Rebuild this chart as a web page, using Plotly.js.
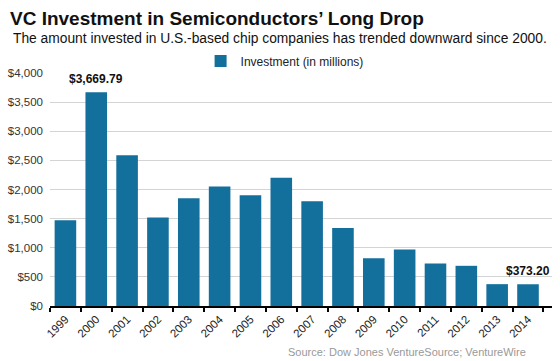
<!DOCTYPE html>
<html><head><meta charset="utf-8">
<script src="https://cdn.plot.ly/plotly-3.0.1.min.js"></script>
<style>html,body{margin:0;padding:0;background:#fff}#c{width:560px;height:361px}</style>
</head><body><div id="c"></div>
<script>
const years = ['1999','2000','2001','2002','2003','2004','2005','2006','2007','2008','2009','2010','2011','2012','2013','2014'];
const investment = [1470, 3669.79, 2590, 1520, 1850, 2050, 1900, 2200, 1800, 1340, 820, 970, 730, 690, 375, 373.20];
const yTickVals = [0,500,1000,1500,2000,2500,3000,3500,4000];
const yTickText = ['$0','$500','$1,000','$1,500','$2,000','$2,500','$3,000','$3,500','$4,000'];
const seriesName = 'Investment (in millions)';
const labelled = [{i:1, text:'$3,669.79'}, {i:15, text:'$373.20'}];

const F = 'Liberation Sans, Arial, sans-serif';
const anns = labelled.map(l => ({
  x: l.i, y: investment[l.i], xref:'x', yref:'y', text:l.text, showarrow:false,
  yanchor:'bottom', yshift:4, font:{family:F, size:12, color:'#111', weight:'bold'}
}));
anns.push({xref:'paper', yref:'paper', x:-0.084, y:1.236, xanchor:'left', yanchor:'middle', showarrow:false,
  text:'<b>VC Investment in Semiconductors’ Long Drop</b>', font:{family:F, size:19, color:'#111'}});
anns.push({xref:'paper', yref:'paper', x:-0.078, y:1.150, xanchor:'left', yanchor:'middle', showarrow:false,
  text:'The amount invested in U.S.-based chip companies has trended downward since 2000.', font:{family:F, size:13.8, color:'#111'}});
anns.push({xref:'paper', yref:'paper', x:0.952, y:-0.197, xanchor:'right', yanchor:'middle', showarrow:false,
  text:'Source: Dow Jones VentureSource; VentureWire', font:{family:F, size:11, color:'#999'}});

Plotly.newPlot('c', [{
  type:'bar', x:years, y:investment, name:seriesName, showlegend:true,
  marker:{color:'#136f9c'}, hoverinfo:'none'
}], {
  width:560, height:361,
  margin:{l:50, r:8, t:73, b:55},
  paper_bgcolor:'#fff', plot_bgcolor:'#fff',
  bargap:0.3,
  font:{family:F, size:11, color:'#333'},
  showlegend:true,
  legend:{orientation:'h', x:0.30, xanchor:'left', y:1.052, yanchor:'middle', itemwidth:30, font:{family:F, size:12, color:'#222'}},
  xaxis:{type:'category', tickangle:-45, ticks:'outside', tickson:'boundaries', ticklen:4, tickwidth:2, tickcolor:'#000',
    showline:true, linecolor:'#000', linewidth:2, showgrid:false, tickfont:{family:F, size:11.5, color:'#222'}, fixedrange:true},
  yaxis:{range:[0,4000], tickvals:yTickVals, ticktext:yTickText, showgrid:true, gridcolor:'#d4d4d4', gridwidth:1,
    zeroline:false, showline:false, ticks:'', ticklabelstandoff:6, tickfont:{family:F, size:11.5, color:'#333'}, fixedrange:true},
  annotations: anns
}, {staticPlot:true});
</script></body></html>
